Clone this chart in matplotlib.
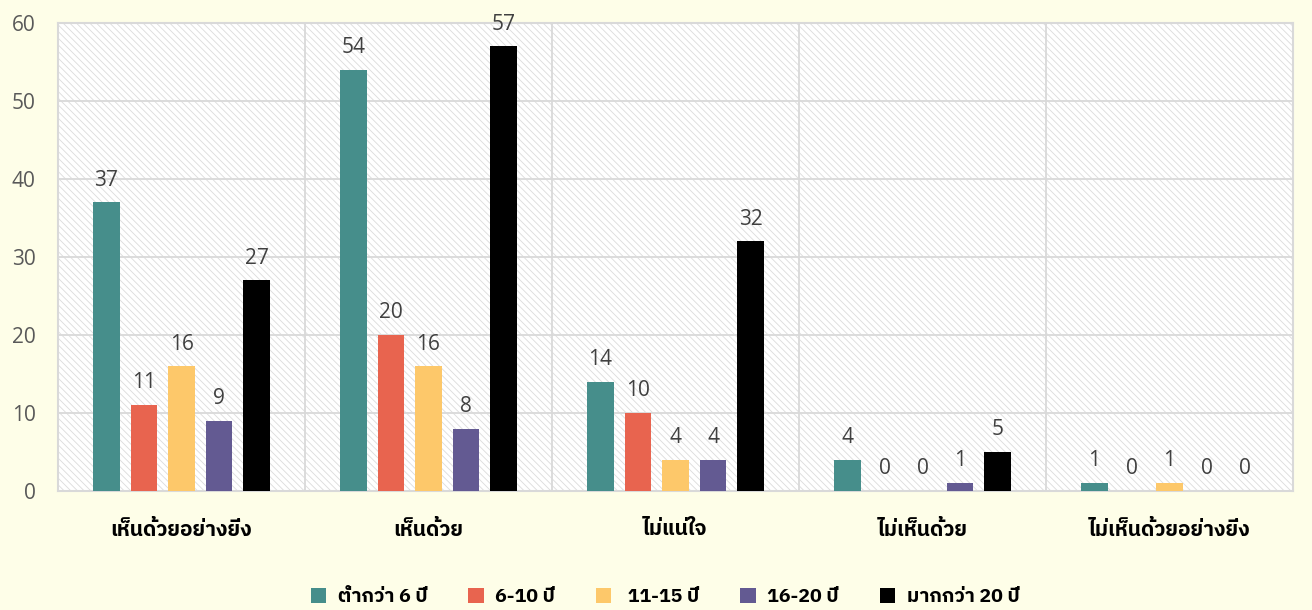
import matplotlib
matplotlib.use("Agg")
import matplotlib.pyplot as plt
from matplotlib import font_manager as fm
from matplotlib.patches import Rectangle
import numpy as np

categories = ["เห็นด้วยอย่างยิ่ง", "เห็นด้วย", "ไม่แน่ใจ", "ไม่เห็นด้วย", "ไม่เห็นด้วยอย่างยิ่ง"]
series_names = ["ต่ำกว่า 6 ปี", "6-10 ปี", " 11-15 ปี", "16-20 ปี", "มากกว่า 20 ปี"]
v_lt6 = [37, 54, 14, 4, 1]
v_6_10 = [11, 20, 10, 0, 0]
v_11_15 = [16, 16, 4, 0, 1]
v_16_20 = [9, 8, 4, 1, 0]
v_gt20 = [27, 57, 32, 5, 0]
series_values = [v_lt6, v_6_10, v_11_15, v_16_20, v_gt20]
colors = ["#468E8B", "#E8644F", "#FDC86A", "#635A92", "#000000"]
yticks = [0, 10, 20, 30, 40, 50, 60]

bold_fams = {f.name for f in fm.fontManager.ttflist
             if (f.weight if isinstance(f.weight, int) else 400) >= 700 or f.weight == "bold"}
all_fams = {f.name for f in fm.fontManager.ttflist}
thai = None
for cand in ["Noto Sans Thai", "Noto Sans Thai UI", "Leelawadee UI", "Tahoma", "IBM Plex Sans Thai", "Sarabun", "Loma"]:
    if cand in bold_fams:
        thai = cand
        break
if thai is None:
    for cand in ["Noto Sans Thai", "IBM Plex Sans Thai", "Sarabun", "Loma"]:
        if cand in all_fams:
            thai = cand
            break
fam = ["Open Sans", thai] if thai else ["Open Sans"]
plt.rcParams["font.family"] = fam
plt.rcParams["hatch.linewidth"] = 0.6

bg = "#FEFEE8"
fig = plt.figure(figsize=(13.12, 6.1), dpi=100, facecolor=bg)
ax = fig.add_axes([58/1312, 1-491/610, (1293-58)/1312, (491-23)/610])
ax.set_facecolor("white")
ax.add_patch(Rectangle((0, 0), 1, 1, transform=ax.transAxes, facecolor="none",
                       edgecolor="#DCDCDC", hatch="\\\\\\\\\\", linewidth=0, zorder=0))

n = len(categories)
x = np.arange(n)
step = 0.152
width = 0.108
for i, (name, vals, c) in enumerate(zip(series_names, series_values, colors)):
    pos = x + (i - 2) * step
    ax.bar(pos, vals, width, color=c, label=name, zorder=3)
    for p, v in zip(pos, vals):
        ax.text(p, v + 1.5, str(v), ha="center", va="bottom", fontsize=15, color="#404040", zorder=4)

ax.set_xlim(-0.5, n - 0.5)
ax.set_ylim(0, 60)
ax.set_yticks(yticks)
ax.set_yticklabels([str(t) for t in yticks], fontsize=15, color="#595959")
ax.set_xticks(x)
ax.set_xticklabels(categories, fontsize=15, fontweight="bold", color="black",
                   family=[thai] if thai else fam)
ax.tick_params(axis="both", length=0)
ax.tick_params(axis="x", pad=21)
ax.tick_params(axis="y", pad=16)
for yv in yticks[1:-1]:
    ax.axhline(yv, color="#D9D9D9", lw=1.3, zorder=1)
for xv in np.arange(0.5, n - 0.5, 1):
    ax.axvline(xv, color="#D9D9D9", lw=1.3, zorder=1)
for s in ax.spines.values():
    s.set_color("#D9D9D9")
    s.set_linewidth(1.5)

leg = fig.legend(loc="center", bbox_to_anchor=(665/1312, 1-597/610), ncol=5, frameon=False,
                 prop={"size": 14, "weight": "bold", "family": [thai] if thai else fam},
                 handlelength=0.8, handleheight=0.8,
                 columnspacing=2.1, handletextpad=0.6, borderpad=0)

fig.savefig("out.png", dpi=100, facecolor=bg)
